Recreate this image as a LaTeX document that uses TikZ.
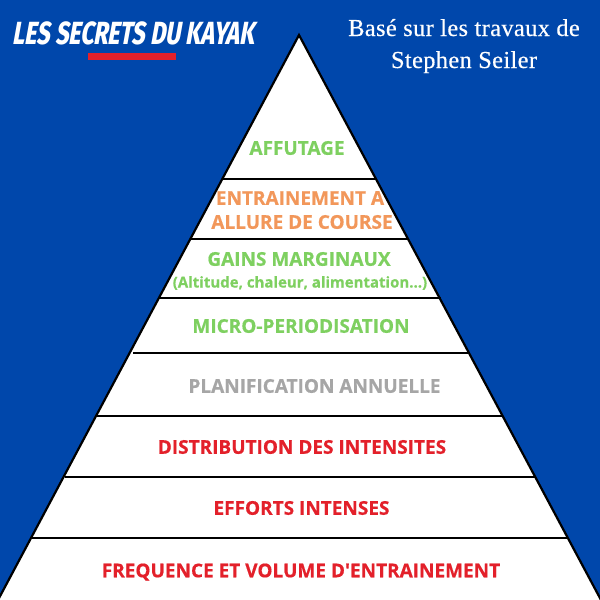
\documentclass[tikz,border=0pt]{standalone}
\usepackage{fontspec}
\newfontfamily\labfont{Open Sans}[BoldFeatures={FakeBold=0.5}]
\newfontfamily\titlefont[FakeStretch=0.72,FakeSlant=0.18]{Fira Sans ExtraBold}
\newfontfamily\serifhead[LetterSpace=1.5,FakeBold=0.4]{Liberation Serif}
\definecolor{bgblue}{HTML}{0047AB}
\definecolor{lv}{HTML}{7ED060}
\definecolor{or}{HTML}{F2975A}
\definecolor{gr}{HTML}{A6A6A6}
\definecolor{rd}{HTML}{E3202A}
\tikzset{
  x=1pt,y=-1pt,
  lab/.style={font=\labfont\bfseries\fontsize{#1}{#1}\selectfont,inner sep=0pt,align=center},
  lab/.default=17,
  tier/.style={line width=2.4pt,black},
}
\begin{document}
\begin{tikzpicture}
\useasboundingbox (0,0) rectangle (600,600);
\fill[bgblue] (0,0) rectangle (600,600);
\coordinate (apex) at (299,35);
\coordinate (bl) at (-2,600);
\coordinate (br) at (601,600);
\clip (0,0) rectangle (600,600);
\fill[white] (apex) -- (bl) -- (br) -- cycle;
\draw[line width=2.2pt,black,line join=miter] (bl) -- (apex) -- (br);
\foreach \n/\y/\xa/\xb in {a/179/222/376, b/239/190/408, c/298/158/441, d/353/133/470, e/416/97/502, f/477/65/535, g/538/31/568}{
  \coordinate (\n l) at (\xa,\y);
  \coordinate (\n r) at (\xb,\y);
  \draw[tier] (\n l) -- (\n r);
}
\node[lab=19,text=lv] (t1) at (297,148) {AFFUTAGE};
\node[lab=19,text=or] (t2a) at (300,198) {ENTRAINEMENT A};
\node[lab=19,text=or] (t2b) at (302,222) {ALLURE DE COURSE};
\node[lab=19,text=lv] (t3a) at (299,259) {GAINS MARGINAUX};
\node[lab=15,text=lv] (t3b) at (300,283) {(Altitude, chaleur, alimentation...)};
\node[lab=19,text=lv] (t4) at (301,326) {MICRO-PERIODISATION};
\node[lab=19,text=gr] (t5) at (314.5,386) {PLANIFICATION ANNUELLE};
\node[lab=19,text=rd] (t6) at (302,447) {DISTRIBUTION DES INTENSITES};
\node[lab=19,text=rd] (t7) at (301.5,508) {EFFORTS INTENSES};
\node[lab=19,text=rd] (t8) at (301,572) {FREQUENCE ET VOLUME D'ENTRAINEMENT};
\node[inner sep=0pt,text=white,font=\titlefont\fontsize{32}{32}\selectfont] (brand) at (133.5,33) {LES SECRETS DU KAYAK};
\node[fill=rd,minimum width=88pt,minimum height=6.5pt,inner sep=0pt] (bar) at (132,56.5) {};
\node[inner sep=0pt,anchor=base,text=white,font=\serifhead\fontsize{24.4}{24.4}\selectfont] (h1) at (464,36) {Basé sur les travaux de};
\node[inner sep=0pt,anchor=base,text=white,font=\serifhead\fontsize{24.4}{24.4}\selectfont] (h2) at (464,68) {Stephen Seiler};
\end{tikzpicture}
\end{document}
